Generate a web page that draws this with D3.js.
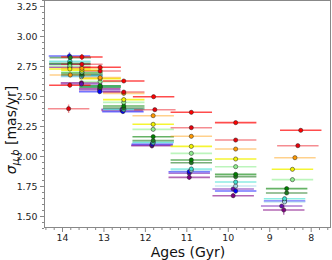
<!DOCTYPE html>
<html><head><meta charset="utf-8">
<script src="https://cdn.jsdelivr.net/npm/d3@7"></script>
<style>
html,body{margin:0;padding:0;background:#fff;}
svg{display:block;font-family:"DejaVu Sans",sans-serif;}
</style></head>
<body><svg id="c" width="332" height="260"></svg>
<script>
// ---- data (ages in Gyr, sigma_mu_b in mas/yr) ----
const seriesNames = ["red1","red2","orange","yellow","lightgreen","green","darkgreen","cyan","lightblue","blue","purple","indigo"];
const xTickValues = [14,13,12,11,10,9,8];
const yTickValues = [1.50,1.75,2.00,2.25,2.50,2.75,3.00,3.25];

const red1Ages = [13.81,13.52,13.08,12.51,11.79,10.88,9.81,8.24];
const red1Vals = [2.590,2.825,2.739,2.625,2.494,2.364,2.278,2.214];
const red2Ages = [13.84,13.52,13.08,12.51,11.76,10.88,9.81,8.31];
const red2Vals = [2.394,2.764,2.708,2.533,2.386,2.236,2.133,2.086];
const orangeAges = [13.80,13.52,13.08,12.51,11.80,10.88,9.81,8.38];
const orangeVals = [2.675,2.730,2.653,2.522,2.336,2.164,2.058,1.986];
const yellowAges = [13.81,13.52,13.08,12.51,11.80,10.88,9.81,8.44];
const yellowVals = [2.725,2.715,2.645,2.470,2.264,2.080,1.975,1.889];
const lightgreenAges = [13.81,13.52,13.08,12.51,11.80,10.88,9.81,8.44];
const lightgreenVals = [2.750,2.700,2.620,2.447,2.222,2.022,1.911,1.803];
const greenAges = [13.81,13.52,13.08,12.51,11.80,10.88,9.81,8.58];
const greenVals = [2.770,2.694,2.586,2.417,2.161,1.967,1.847,1.728];
const darkgreenAges = [13.80,13.52,13.08,12.51,11.80,10.88,9.81,8.58];
const darkgreenVals = [2.820,2.680,2.573,2.400,2.128,1.944,1.828,1.692];
const cyanAges = [13.81,13.52,13.08,12.51,11.80,10.88,9.81,8.63];
const cyanVals = [2.790,2.670,2.580,2.390,2.115,1.892,1.783,1.644];
const lightblueAges = [13.81,13.53,13.08,12.51,11.80,10.88,9.81,8.63];
const lightblueVals = [2.780,2.660,2.575,2.385,2.110,1.880,1.750,1.617];
const blueAges = [13.82,13.52,13.09,12.53,11.82,10.93,9.81,8.63];
const blueVals = [2.833,2.670,2.536,2.370,2.100,1.869,1.708,1.625];
const purpleAges = [13.81,13.53,13.09,12.55,11.83,10.93,9.87,8.70];
const purpleVals = [2.765,2.600,2.550,2.389,2.092,1.856,1.725,1.583];
const indigoAges = [13.81,13.53,13.09,12.55,11.83,10.93,9.87,8.65];
const indigoVals = [2.740,2.610,2.560,2.380,2.085,1.822,1.669,1.550];

const ageErr = [0.5,0.5,0.5,0.5,0.5,0.5,0.5,0.5];
const red1YErr = [0.02,0.025,0.015,0.015,0.015,0.015,0.015,0.015];
const red2YErr = [0.035,0.02,0.015,0.015,0.015,0.015,0.015,0.015];
const smallYErr = [0.02,0.015,0.015,0.015,0.015,0.015,0.015,0.015];
const blueYErr = [0.03,0.02,0.015,0.015,0.02,0.015,0.02,0.02];
const indigoYErr = [0.02,0.015,0.015,0.02,0.02,0.02,0.02,0.04];

const seriesData = {
  red1:[red1Ages,red1Vals,red1YErr], red2:[red2Ages,red2Vals,red2YErr],
  orange:[orangeAges,orangeVals,smallYErr], yellow:[yellowAges,yellowVals,smallYErr],
  lightgreen:[lightgreenAges,lightgreenVals,smallYErr], green:[greenAges,greenVals,smallYErr],
  darkgreen:[darkgreenAges,darkgreenVals,smallYErr], cyan:[cyanAges,cyanVals,smallYErr],
  lightblue:[lightblueAges,lightblueVals,smallYErr], blue:[blueAges,blueVals,blueYErr],
  purple:[purpleAges,purpleVals,smallYErr], indigo:[indigoAges,indigoVals,indigoYErr]
};

// ---- styles ----
const colors = {red1:"#ff0000",red2:"#e8000b",orange:"#ff9900",yellow:"#f2f200",lightgreen:"#90ee90",
  green:"#008000",darkgreen:"#1f7a1f",cyan:"#40e0d0",lightblue:"#a8d8ea",blue:"#0000ff",purple:"#6a0dad",indigo:"#800080"};
const barOpacity = {red1:0.7,red2:0.45,orange:0.45,yellow:0.8,lightgreen:0.6,green:0.6,darkgreen:0.6,
  cyan:0.6,lightblue:0.6,blue:0.55,purple:0.55,indigo:0.6};

const W=332,H=260, L=44, R=331, T=0, B=228;
const svg = d3.select("#c");
const x = d3.scaleLinear().domain([14.434,7.51]).range([L,R]);
const y = d3.scaleLinear().domain([1.40,3.30]).range([B,T]);

const plot = svg.append("g");
const order = seriesNames.slice().reverse();
order.forEach(name=>{
  const [ages,vals,yerr]=seriesData[name];
  const pts = ages.map((a,i)=>({a,v:vals[i],xe:ageErr[i],ye:yerr[i]}));
  const g = plot.append("g");
  g.selectAll("line.h").data(pts).join("line")
    .attr("x1",d=>x(d.a+d.xe)).attr("x2",d=>x(d.a-d.xe))
    .attr("y1",d=>y(d.v)).attr("y2",d=>y(d.v))
    .attr("stroke",colors[name]).attr("stroke-width",1.6).attr("stroke-opacity",barOpacity[name]);
  g.selectAll("line.v").data(pts).join("line")
    .attr("x1",d=>x(d.a)).attr("x2",d=>x(d.a))
    .attr("y1",d=>y(d.v-d.ye)).attr("y2",d=>y(d.v+d.ye))
    .attr("stroke",colors[name]).attr("stroke-width",1.4).attr("stroke-opacity",barOpacity[name]);
});
order.forEach(name=>{
  const [ages,vals]=seriesData[name];
  plot.append("g").selectAll("circle").data(ages.map((a,i)=>({a,v:vals[i]}))).join("circle")
    .attr("cx",d=>x(d.a)).attr("cy",d=>y(d.v)).attr("r",2.1)
    .attr("fill",colors[name]).attr("stroke","#222").attr("stroke-width",0.5);
});

// frame
svg.append("rect").attr("x",L+0.5).attr("y",T+0.5).attr("width",R-L-1).attr("height",B-T-1)
  .attr("fill","none").attr("stroke","#888").attr("stroke-width",1);

// axes
const axCol="#888";
const xMinor = d3.range(7.6,14.41,0.2).filter(v=>Math.abs(v-Math.round(v))>0.01);
const yMinor = d3.range(1.40,3.301,0.05).filter(v=>Math.abs(v*4-Math.round(v*4))>0.01);
const gx = svg.append("g").attr("transform",`translate(0,${B})`);
gx.append("g").call(d3.axisBottom(x).tickValues(xMinor).tickSize(2).tickFormat("").tickSizeOuter(0));
gx.append("g").call(d3.axisBottom(x).tickValues(xTickValues).tickSize(4).tickPadding(2).tickFormat(d3.format("d")).tickSizeOuter(0));
const gy = svg.append("g").attr("transform",`translate(${L},0)`);
gy.append("g").call(d3.axisLeft(y).tickValues(yMinor).tickSize(2).tickFormat("").tickSizeOuter(0));
gy.append("g").call(d3.axisLeft(y).tickValues(yTickValues).tickSize(4).tickPadding(2.5).tickFormat(d3.format(".2f")).tickSizeOuter(0));
svg.selectAll(".domain").remove();
svg.selectAll(".tick line").attr("stroke",axCol);
svg.selectAll(".tick text").attr("fill","#222").style("font-size","9.4px").style("font-family","DejaVu Sans");

// labels
svg.append("text").attr("x",188).attr("y",257).attr("text-anchor","middle")
  .style("font-size","14px").attr("fill","#111").text("Ages (Gyr)");
const yl = svg.append("text").attr("transform","translate(16,130) rotate(-90)").attr("text-anchor","middle")
  .style("font-size","14px").attr("fill","#111");
yl.append("tspan").style("font-style","italic").text("σ");
yl.append("tspan").style("font-style","italic").style("font-size","10px").attr("dy",3).text("μ,b");
yl.append("tspan").attr("dy",-3).text(" [mas/yr]");
</script></body></html>
